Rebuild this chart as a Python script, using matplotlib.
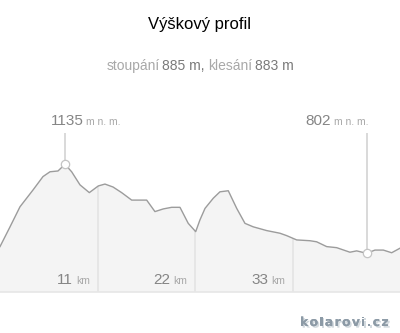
import matplotlib
matplotlib.use("Agg")
import matplotlib.pyplot as plt
import matplotlib.patheffects as pe
import numpy as np

# ---- data (km, metres above sea level) ----
dist_km = [0, 1.13, 2.25, 3.72, 4.84, 5.63, 6.53, 7.32, 8.07, 9.01, 10.06, 11.07,
           11.82, 12.73, 13.7, 14.83, 16.52, 17.45, 18.39, 19.33, 20.27, 21.2,
           22.04, 22.52, 23.09, 24.02, 24.77, 25.71, 26.66, 27.59, 28.52, 30.03,
           31.53, 32.29, 33.41, 34.91, 35.66, 36.79, 37.92, 39.41, 40.17, 41.29,
           42.23, 43.17, 44.11, 45.05]
elev_m = [827, 901, 976, 1039, 1089, 1107, 1110, 1135, 1107, 1058, 1029, 1054,
          1061, 1050, 1029, 1001, 1001, 958, 968, 974, 974, 914,
          883, 927, 970, 1008, 1032, 1036, 970, 914, 901, 887,
          877, 868, 852, 849, 845, 827, 823, 806, 811, 802,
          814, 814, 804, 821]
tick_km = [11, 22, 33]
tick_labels = ["11", "22", "33"]
max_label = "1135"
min_label = "802"
title = "Výškový profil"
ascent_txt = "885 m,"
descent_txt = "883 m"
watermark = "kolarovi.cz"

W, H = 400, 333
plt.rcParams['font.family'] = ['Liberation Sans', 'DejaVu Sans']
fig = plt.figure(figsize=(W / 100, H / 100), dpi=100)
fig.patch.set_facecolor('white')

# axes occupies pixel rows 100..292 (from top), full width
y_top, y_bot = 100, 292
ax = fig.add_axes([0, (H - y_bot) / H, 1, (y_bot - y_top) / H])
ax.set_xlim(0, dist_km[-1])
ax.set_ylim(657.1, 1375.6)
ax.set_facecolor('none')
for s in ['top', 'left', 'right']:
    ax.spines[s].set_visible(False)
ax.spines['bottom'].set_color('#e6e6e6')
ax.spines['bottom'].set_linewidth(1.2)
ax.set_xticks([]); ax.set_yticks([])

x = np.array(dist_km); y = np.array(elev_m)
ax.fill_between(x, y, 657.1, color='#f4f4f4', lw=0, zorder=1)
# vertical km grid lines up to the profile
for k in tick_km:
    ax.vlines(k, 657.1, np.interp(k, x, y), color='#e2e2e2', lw=1.1, zorder=2)
ax.plot(x, y, color='#9c9c9c', lw=1.0, zorder=3, solid_joinstyle='round')

# markers for max / min
imax = int(np.argmax(y)); imin = int(np.argmin(y))
top_line_y = 1135 + (164.3 - 133) * 3.742
for i in (imax, imin):
    ax.vlines(x[i], y[i], top_line_y, color='#d0d0d0', lw=1.1, zorder=2)
    ax.plot(x[i], y[i], 'o', ms=6, mfc='white', mec='#c4c4c4', mew=0.9, zorder=4)

fig.canvas.draw()
renderer = fig.canvas.get_renderer()

def px_to_fig(px, py):
    return px / W, (H - py) / H

def data_to_px(dx, dy):
    X, Y = ax.transData.transform((dx, dy))
    return X, H - Y

def place(xp, yp, parts, anchor='left'):
    texts = []
    widths = []
    for s, size, color, weight, fam, gap in parts:
        t = fig.text(0, 0, s, fontsize=size, color=color, fontweight=weight,
                     family=fam, va='baseline', ha='left')
        widths.append(t.get_window_extent(renderer).width + gap)
        texts.append(t)
    total = sum(widths)
    if anchor == 'right':
        start = xp - total
    elif anchor == 'center':
        start = xp - total / 2
    else:
        start = xp
    cur = start
    for t, w in zip(texts, widths):
        t.set_position(px_to_fig(cur, yp))
        cur += w
    return texts

LS = ['Liberation Sans', 'DejaVu Sans']
place(200, 29, [(title, 12, 'black', 'normal', LS, 0)], anchor='center')
place(200, 70, [("stoupání", 10, '#a8a8a8', 'normal', LS, 3),
                (ascent_txt, 10, '#7a7a7a', 'normal', LS, 3),
                ("klesání", 10, '#a8a8a8', 'normal', LS, 3),
                (descent_txt, 10, '#7a7a7a', 'normal', LS, 0)], anchor='center')

# max / min labels
mx, _ = data_to_px(x[imax], y[imax])
place(mx - 14.5, 125, [(max_label, 11, '#858585', 'normal', LS, 3),
                       ("m n. m.", 7.5, '#a8a8a8', 'normal', LS, 0)])
nx, _ = data_to_px(x[imin], y[imin])
place(nx - 61, 125, [(min_label, 11, '#858585', 'normal', LS, 3),
                     ("m n. m.", 7.5, '#a8a8a8', 'normal', LS, 0)])

# km labels
for k, lab in zip(tick_km, tick_labels):
    kx, _ = data_to_px(k, 700)
    place(kx - 8, 283.5, [(lab, 11, '#858585', 'normal', LS, 3),
                          ("km", 7.5, '#a8a8a8', 'normal', LS, 0)], anchor='right')

# watermark: wide bold letters with a soft shadow (path effect)
DJ = ['DejaVu Sans']
shadow = [pe.withSimplePatchShadow(offset=(1.2, -1.2), shadow_rgbFace='#d3dadf',
                                   alpha=1.0), pe.Normal()]
def spaced(xp, yp, s, color, size=9.0, extra=1.3):
    cur = xp
    for ch in s:
        t = fig.text(0, 0, ch, fontsize=size, color=color, fontweight='bold',
                     family=DJ, va='baseline', ha='left', path_effects=shadow)
        t.set_position(px_to_fig(cur, yp))
        w = t.get_window_extent(renderer).width
        cur += w + extra
spaced(300, 326, watermark, '#8c9aa6')

fig.savefig('out.png', dpi=100, facecolor='white')
